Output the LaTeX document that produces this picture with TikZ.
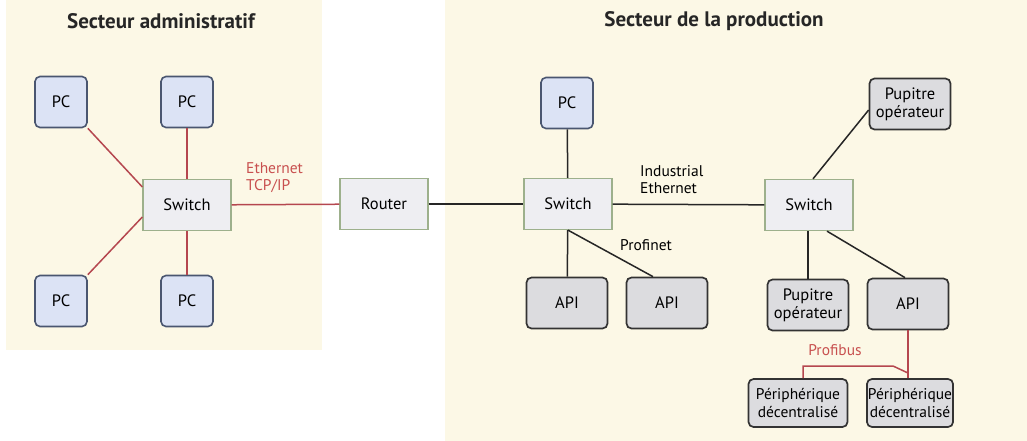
\documentclass[tikz,border=0pt]{standalone}
\usepackage{fontspec}
\setmainfont{PT Sans}
\usetikzlibrary{positioning,calc}
\definecolor{creme}{HTML}{FCF8E6}
\definecolor{pcfill}{HTML}{DCE3F5}
\definecolor{pcborder}{HTML}{4A5670}
\definecolor{swfill}{HTML}{EEEEF2}
\definecolor{swborder}{HTML}{9DB08C}
\definecolor{devfill}{HTML}{DCDCDF}
\definecolor{devborder}{HTML}{333333}
\definecolor{ethred}{HTML}{B5474F}
\definecolor{lblred}{HTML}{C8504F}

\begin{document}
\begin{tikzpicture}[x=1pt,y=-1pt,font=\fontsize{16.5}{18}\selectfont,
  pc/.style={draw=pcborder,fill=pcfill,rounded corners=5pt,line width=1.6pt,minimum width=52pt,minimum height=51pt},
  sw/.style={draw=swborder,fill=swfill,line width=1.3pt,minimum width=88pt,minimum height=51pt},
  dev/.style={draw=devborder,fill=devfill,rounded corners=5pt,line width=1.7pt,minimum width=81pt,minimum height=51pt,align=center,inner sep=1pt},
  title/.style={font=\fontsize{21}{24}\selectfont\bfseries,text=black!85},
  lbl/.style={align=left,anchor=west,inner sep=0pt,font=\fontsize{15.5}{17}\selectfont},
  eth/.style={draw=ethred,line width=1.5pt},
  ind/.style={draw=black!85,line width=1.5pt}]
\useasboundingbox (0,0) rectangle (1027,441);
\fill[creme] (6,0) rectangle (322,350);
\fill[creme] (445,0) rectangle (1027,441);

% secteur administratif
\node[title] (t1) at (161,21) {Secteur administratif};
\node[pc] (pc1) at (61,102) {PC};
\node[pc] (pc2) at (187,102) {PC};
\node[pc] (pc3) at (61,301) {PC};
\node[pc] (pc4) at (187,301) {PC};
\node[sw] (sw1) at (187,205) {Switch};
\node[sw] (rt) at (384,204) {Router};
\node[lbl,text=lblred] (leth) at (246,178) {Ethernet\\TCP/IP};

% secteur de la production
\node[title] (t2) at (714,21) {Secteur de la production};
\node[pc] (pc5) at (567,103) {PC};
\node[sw] (sw2) at (568,204) {Switch};
\node[sw] (sw3) at (809,205) {Switch};
\node[dev] (api1) at (567,303) {API};
\node[dev] (api2) at (667,303) {API};
\node[dev] (pup1) at (910,104) {Pupitre\\opérateur};
\node[dev] (pup2) at (808,305) {Pupitre\\opérateur};
\node[dev] (api3) at (908,304) {API};
\node[dev,minimum width=99pt,minimum height=48pt,font=\fontsize{15.5}{17.5}\selectfont] (per1) at (798,403) {Périphérique\\décentralisé};
\node[dev,minimum width=86pt,minimum height=48pt,font=\fontsize{15.5}{17.5}\selectfont] (per2) at (910,403) {Périphérique\\décentralisé};
\node[lbl] (lind) at (640,180) {Industrial\\Ethernet};
\node[lbl] (lpn) at (620,245) {Profinet};
\node[lbl,anchor=center,text=lblred] (lpb) at (835,350) {Profibus};
\coordinate (pbk) at (893,366);
\coordinate (pbj) at (908,373);

% liaisons
\draw[eth] (pc1.south east) -- ($(sw1.west)+(0,-18)$);
\draw[eth] (pc3.north east) -- ($(sw1.west)+(0,12)$);
\draw[eth] (pc2) -- (sw1);
\draw[eth] (pc4) -- (sw1);
\draw[eth] (sw1) -- (rt);
\draw[ind] (rt) -- (sw2);
\draw[ind] (sw2) -- (sw3);
\draw[ind] (pc5) -- (sw2);
\draw[ind] (sw2) -- (api1);
\draw[ind] (sw2.south) -- ($(api2.north)+(-14,0)$);
\draw[ind] ($(sw3.north)+(4,0)$) -- ($(pup1.west)+(0,6)$);
\draw[ind] (pup2.north) -- (pup2.north |- sw3.south);
\draw[ind] ($(sw3.south)+(18,0)$) -- ($(api3.north)+(-3,0)$);
\draw[eth] (api3.south) -- (api3.south |- per2.north);
\draw[eth] ($(per1.north)+(5,0)$) |- (pbk) -- (pbj);
\end{tikzpicture}
\end{document}
